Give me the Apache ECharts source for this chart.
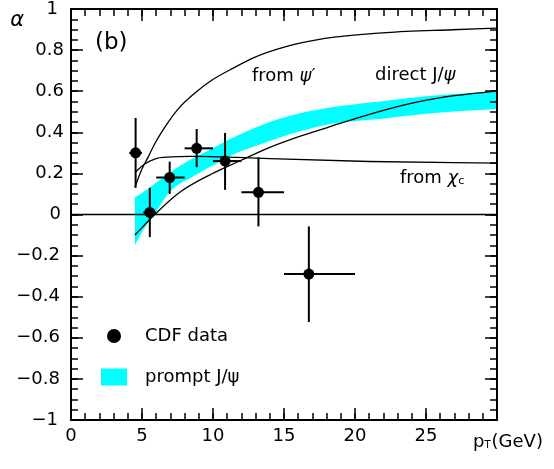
<!DOCTYPE html>
<html>
<head>
<meta charset="utf-8">
<script src="https://cdn.jsdelivr.net/npm/echarts@6/dist/echarts.min.js"></script>
<style>
html,body{margin:0;padding:0;background:#fff;}
#chart{width:554px;height:469px;}
</style>
</head>
<body>
<div id="chart"></div>
<script>
// ---- CDF data (pT in GeV, alpha) ----
const cdfX  = [4.55, 5.55, 6.95, 8.85, 10.85, 13.2, 16.75];
const cdfY  = [0.30, 0.01, 0.18, 0.322, 0.26, 0.108, -0.29];
const cdfXLo = [4.1, 5.1, 6.0, 8.0, 10.0, 12.0, 15.0];
const cdfXHi = [5.0, 6.0, 8.0, 10.0, 12.0, 15.0, 20.0];
const cdfYLo = [0.13, -0.11, 0.10, 0.23, 0.12, -0.058, -0.523];
const cdfYHi = [0.47, 0.13, 0.257, 0.416, 0.397, 0.278, -0.058];

// ---- prompt J/psi band ----
const bandX  = [4.5, 5.0, 5.9, 6.83, 8.71, 9.88, 11.2, 13.5, 15.9, 18.24, 21.76, 25, 30];
const bandHi = [0.084, 0.105, 0.15, 0.197, 0.278, 0.319, 0.367, 0.437, 0.489, 0.521, 0.55, 0.575, 0.60];
const bandLo = [-0.15, -0.085, 0.005, 0.10, 0.19, 0.235, 0.285, 0.345, 0.40, 0.44, 0.465, 0.49, 0.513];

// ---- theory curves ----
const psiPX = [4.5, 4.95, 5.42, 5.89, 6.6, 7.54, 8.71, 9.88, 11.5, 12.84, 15.2, 17.5, 22.2, 26.9, 30];
const psiPY = [0.133, 0.214, 0.278, 0.343, 0.424, 0.513, 0.59, 0.652, 0.715, 0.762, 0.818, 0.852, 0.885, 0.899, 0.907];
const chiX = [4.5, 5.19, 5.89, 7.06, 8.7, 11.76, 14, 21, 30];
const chiY = [0.205, 0.246, 0.27, 0.28, 0.283, 0.278, 0.272, 0.258, 0.25];
const dirX = [4.5, 5.9, 7.5, 9.9, 11.8, 14.0, 16.0, 18.0, 21.5, 24.6, 27, 30];
const dirY = [-0.10, 0.0, 0.10, 0.197, 0.258, 0.327, 0.378, 0.422, 0.497, 0.550, 0.578, 0.60];

// ---- axes ----
const xMin = 0, xMax = 30, xStep = 5, xMinorStep = 1;
const yMin = -1, yMax = 1, yStep = 0.2, yMinorStep = 0.05;

const FONT = 'DejaVu Sans';
const zip = (xs, ys) => xs.map((x, i) => [x, ys[i]]);

const chart = echarts.init(document.getElementById('chart'), null, {renderer: 'canvas'});

const frameLine = {show: true, onZero: false, lineStyle: {color: '#000', width: 2}};
const noLine = {show: false, onZero: false};
const tick = (len) => ({show: true, inside: true, length: len, lineStyle: {color: '#000', width: 1.5}});
const lbl = {fontFamily: FONT, fontSize: 18, color: '#000'};

function axisX(pos, step, major, withLabel) {
  const a = {
    type: 'value', min: xMin, max: xMax, interval: step, position: pos, offset: 0,
    axisLine: major ? frameLine : noLine, axisTick: tick(major ? 12 : 7),
    splitLine: {show: false}, axisLabel: {show: false}, z: major ? 3 : 2
  };
  if (withLabel) {
    a.axisLabel = Object.assign({show: true, margin: 7, formatter: v => (v >= xMax ? '' : String(v))}, lbl);
    a.name = '{p|p}{t|T}{p|(GeV)}';
    a.nameLocation = 'end';
    a.nameGap = -24;
    a.nameTextStyle = {align: 'left', verticalAlign: 'top', padding: [13, 0, 0, 0],
      rich: {p: {fontFamily: FONT, fontSize: 18, color: '#000'},
             t: {fontFamily: FONT, fontSize: 10, color: '#000', verticalAlign: 'bottom', padding: [0, 1, 1, 0]}}};
  }
  return a;
}
function axisY(pos, step, major, withLabel) {
  const a = {
    type: 'value', min: yMin, max: yMax, interval: step, position: pos, offset: 0,
    axisLine: major ? frameLine : noLine, axisTick: tick(major ? 12 : 7),
    splitLine: {show: false}, axisLabel: {show: false}, z: major ? 3 : 2
  };
  if (withLabel) {
    a.axisLabel = Object.assign({
      show: true, margin: 7,
      formatter: v => {
        const r = Math.round(v * 10) / 10;
        const s = r < 0 ? '\u2212' + Math.abs(r) : String(r);
        const k = (r === 1 || r === -1) ? 'i' : (r === 0 ? 'z' : (r < 0 ? 'n' : 'p'));
        return '{' + k + '|' + s + '}';
      },
      rich: {
        p: {fontFamily: FONT, fontSize: 18, color: '#000', padding: [0, 0, 0, 0]},
        i: {fontFamily: FONT, fontSize: 18, color: '#000', padding: [0, 6, 0, 0]},
        z: {fontFamily: FONT, fontSize: 18, color: '#000', padding: [0, 3, 0, 0]},
        n: {fontFamily: FONT, fontSize: 18, color: '#000', padding: [0, 4, 0, 0]}
      }
    }, lbl);
    a.name = '\u03b1';
    a.nameLocation = 'end';
    a.nameGap = -12;
    a.nameTextStyle = {fontFamily: FONT, fontSize: 21, fontStyle: 'italic', color: '#000',
      align: 'right', verticalAlign: 'middle', padding: [0, 47, 0, 0]};
  }
  return a;
}

// Cubic Hermite segments in pixel space (smooth rendering through the read points)
function hermiteSegs(P) {
  const n = P.length, h = [], d = [], m = [];
  for (let i = 0; i < n - 1; i++) {
    h[i] = P[i + 1][0] - P[i][0];
    d[i] = (P[i + 1][1] - P[i][1]) / h[i];
  }
  m[0] = d[0]; m[n - 1] = d[n - 2];
  for (let i = 1; i < n - 1; i++) m[i] = (d[i - 1] * h[i] + d[i] * h[i - 1]) / (h[i - 1] + h[i]);
  const segs = [];
  for (let i = 0; i < n - 1; i++) {
    segs.push({
      p1: P[i],
      c1: [P[i][0] + h[i] / 3, P[i][1] + m[i] * h[i] / 3],
      c2: [P[i + 1][0] - h[i] / 3, P[i + 1][1] - m[i + 1] * h[i] / 3],
      p2: P[i + 1]
    });
  }
  return segs;
}
const pt = p => p[0] + ' ' + p[1];
function forwardPath(segs) { return segs.map(s => ' C' + pt(s.c1) + ' ' + pt(s.c2) + ' ' + pt(s.p2)).join(''); }
function backwardPath(segs) { return segs.slice().reverse().map(s => ' C' + pt(s.c2) + ' ' + pt(s.c1) + ' ' + pt(s.p1)).join(''); }

function curveSeries(name, xs, ys) {
  return {
    name: name, type: 'custom', silent: true, z: 3,
    data: zip(xs, ys), encode: {x: 0, y: 1},
    renderItem: (params, api) => {
      if (params.dataIndex !== 0) return null;
      const P = xs.map((x, i) => api.coord([x, ys[i]]));
      const d = 'M' + pt(P[0]) + forwardPath(hermiteSegs(P));
      return {type: 'path', shape: {pathData: d}, style: {fill: null, stroke: '#000', lineWidth: 1.3}};
    }
  };
}

const option = {
  animation: false,
  backgroundColor: '#fff',
  grid: {left: 71, top: 8, right: 57, bottom: 49, containLabel: false},
  xAxis: [
    axisX('bottom', xStep, true, true),
    axisX('top', xStep, true, false),
    axisX('bottom', xMinorStep, false, false),
    axisX('top', xMinorStep, false, false)
  ],
  yAxis: [
    axisY('left', yStep, true, true),
    axisY('right', yStep, true, false),
    axisY('left', yMinorStep, false, false),
    axisY('right', yMinorStep, false, false)
  ],
  legend: [
    {
      left: 107, top: 327, padding: 0, itemWidth: 14, itemHeight: 14,
      selectedMode: false,
      data: [{name: 'CDF data', icon: 'circle', itemStyle: {color: '#000', opacity: 1, borderWidth: 0}}],
      textStyle: {fontFamily: FONT, fontSize: 18, color: '#000', padding: [0, 0, 0, 19]}
    },
    {
      left: 101, top: 368, padding: 0, itemWidth: 26, itemHeight: 17,
      selectedMode: false,
      data: [{name: 'prompt J/\u03c8', icon: 'rect', itemStyle: {color: '#00ffff', opacity: 1, borderWidth: 0}}],
      textStyle: {fontFamily: FONT, fontSize: 18, color: '#000', padding: [0, 0, 0, 13]}
    }
  ],
  series: [
    {
      name: 'prompt J/\u03c8', type: 'custom', silent: true, z: 1,
      itemStyle: {color: '#00ffff'},
      data: bandX.map((x, i) => [x, bandLo[i], bandHi[i]]),
      encode: {x: 0, y: [1, 2]},
      renderItem: (params, api) => {
        if (params.dataIndex !== 0) return null;
        const up = bandX.map((x, i) => api.coord([x, bandHi[i]]));
        const lo = bandX.map((x, i) => api.coord([x, bandLo[i]]));
        let d = 'M' + pt(up[0]) + forwardPath(hermiteSegs(up));
        d += ' L' + pt(lo[lo.length - 1]) + backwardPath(hermiteSegs(lo)) + ' Z';
        return {type: 'path', shape: {pathData: d}, style: {fill: '#00ffff', stroke: null}};
      }
    },
    curveSeries('from \u03c8\u2032', psiPX, psiPY),
    curveSeries('from \u03c7c', chiX, chiY),
    Object.assign(curveSeries('direct J/\u03c8', dirX, dirY), {
      markLine: {silent: true, symbol: 'none', label: {show: false},
        lineStyle: {color: '#000', width: 1.3, type: 'solid'}, data: [{yAxis: 0}]}
    }),
    {
      name: 'errors', type: 'custom', z: 4, silent: true,
      data: cdfX.map((x, i) => [x, cdfY[i], cdfXLo[i], cdfXHi[i], cdfYLo[i], cdfYHi[i]]),
      encode: {x: 0, y: 1},
      renderItem: (params, api) => {
        const l = api.coord([api.value(2), api.value(1)]);
        const r = api.coord([api.value(3), api.value(1)]);
        const b = api.coord([api.value(0), api.value(4)]);
        const t = api.coord([api.value(0), api.value(5)]);
        const st = {stroke: '#000', lineWidth: 2};
        return {type: 'group', children: [
          {type: 'line', shape: {x1: l[0], y1: l[1], x2: r[0], y2: r[1]}, style: st},
          {type: 'line', shape: {x1: b[0], y1: b[1], x2: t[0], y2: t[1]}, style: st}
        ]};
      }
    },
    {
      name: 'CDF data', type: 'scatter', data: zip(cdfX, cdfY), symbol: 'circle', symbolSize: 11,
      itemStyle: {color: '#000', opacity: 1}, z: 5, silent: true
    }
  ],
  graphic: [
    {type: 'text', x: 95, y: 43, silent: true,
      style: {text: '(b)', font: '23px "DejaVu Sans"', fill: '#000', align: 'left', verticalAlign: 'middle',
        textAlign: 'left', textVerticalAlign: 'middle'}},
    {type: 'text', x: 252, y: 76, silent: true,
      style: {text: '{n|from }{i|\u03c8}{n|\u2032}', align: 'left', verticalAlign: 'middle',
        textAlign: 'left', textVerticalAlign: 'middle', fill: '#000',
        rich: {n: {fontFamily: FONT, fontSize: 18, fill: '#000'},
               i: {fontFamily: FONT, fontSize: 18, fontStyle: 'italic', fill: '#000'}}}},
    {type: 'text', x: 375, y: 75, silent: true,
      style: {text: '{n|direct J/}{i|\u03c8}', align: 'left', verticalAlign: 'middle',
        textAlign: 'left', textVerticalAlign: 'middle', fill: '#000',
        rich: {n: {fontFamily: FONT, fontSize: 18, fill: '#000'},
               i: {fontFamily: FONT, fontSize: 18, fontStyle: 'italic', fill: '#000'}}}},
    {type: 'text', x: 400, y: 178, silent: true,
      style: {text: '{n|from }{i|\u03c7}{s|c}', align: 'left', verticalAlign: 'middle',
        textAlign: 'left', textVerticalAlign: 'middle', fill: '#000',
        rich: {n: {fontFamily: FONT, fontSize: 18, fill: '#000'},
               i: {fontFamily: FONT, fontSize: 18, fontStyle: 'italic', fill: '#000'},
               s: {fontFamily: FONT, fontSize: 11, fill: '#000', verticalAlign: 'bottom'}}}}
  ]
};

chart.setOption(option);
</script>
</body>
</html>
